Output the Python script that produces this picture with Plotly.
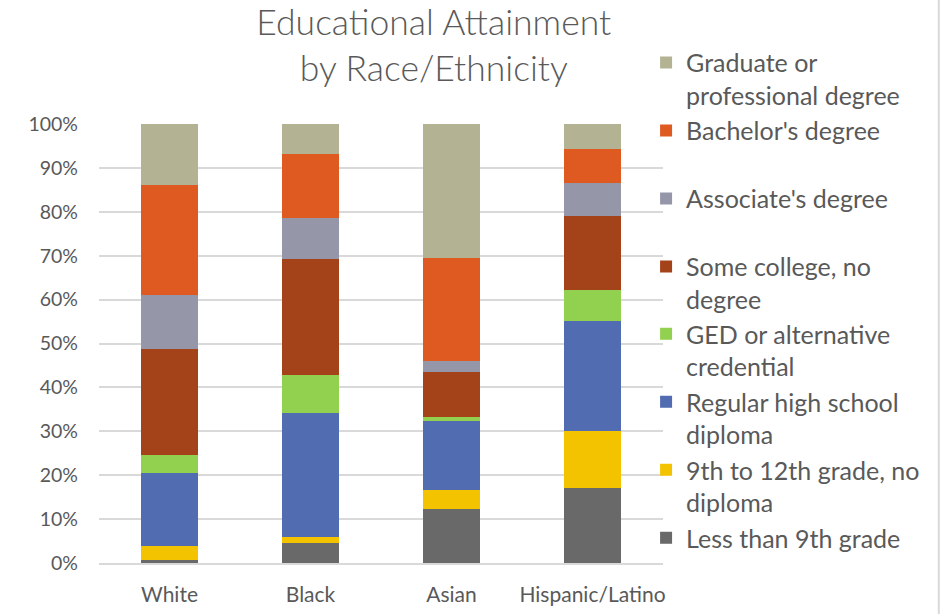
import plotly.graph_objects as go

# categories (x axis)
groups = ["White", "Black", "Asian", "Hispanic/Latino"]

# shares in percent, bottom of the stack first
less_than_9th = [0.6, 4.65, 12.3, 17.0]
grade_9_to_12 = [3.2, 1.2, 4.4, 13.1]
high_school = [16.6, 28.25, 15.7, 25.1]
ged = [4.1, 8.8, 0.9, 6.9]
some_college = [24.2, 26.3, 10.2, 16.9]
associate = [12.25, 9.5, 2.55, 7.6]
bachelor = [25.05, 14.4, 23.4, 7.6]
graduate = [14.0, 6.9, 30.55, 5.8]

# name, values, colour, which legend box
series = [
    ("Less than 9th grade<br>&nbsp;", less_than_9th, "#696969", "legend2"),
    ("9th to 12th grade, no<br>diploma", grade_9_to_12, "#F4C300", "legend2"),
    ("Regular high school<br>diploma", high_school, "#516CB1", "legend2"),
    ("GED or alternative<br>credential", ged, "#92D050", "legend2"),
    ("Some college, no<br>degree", some_college, "#A44219", "legend"),
    ("Associate's degree<br>&nbsp;", associate, "#9597A9", "legend"),
    ("Bachelor's degree<br>&nbsp;", bachelor, "#DF5A21", "legend"),
    ("Graduate or<br>professional degree", graduate, "#B3B393", "legend"),
]

FONT = "Lato, 'Open Sans', sans-serif"
GREY = "#595959"

fig = go.Figure()
for name, vals, color, leg in series:
    fig.add_trace(go.Bar(
        x=groups,
        y=[v / 100 for v in vals],
        name=name,
        legend=leg,
        marker=dict(color=color, line=dict(width=0)),
    ))

legend_style = dict(
    xanchor="left",
    yanchor="top",
    traceorder="reversed",
    valign="top",
    font=dict(family=FONT, size=25, color=GREY),
    bgcolor="rgba(0,0,0,0)",
)

fig.update_layout(
    width=943,
    height=614,
    barmode="stack",
    bargap=0.6,
    plot_bgcolor="white",
    paper_bgcolor="white",
    margin=dict(l=99, r=280, t=124, b=51, autoexpand=False),
    font=dict(family=FONT, color=GREY, size=20),
    title=dict(
        text="Educational Attainment<br>by Race/Ethnicity",
        x=0.46, xanchor="center",
        y=0.9435, yanchor="top",
        font=dict(family=FONT, size=35.5, color=GREY, weight=300),
    ),
    legend=dict(x=0.970, y=1.192, **legend_style),
    legend2=dict(x=0.970, y=0.574, **legend_style),
    shapes=[dict(
        type="line", xref="paper", yref="paper",
        x0=1.489, x1=1.489, y0=-0.12, y1=1.3,
        line=dict(color="#D9D9D9", width=2),
    )],
)

fig.update_yaxes(
    range=[0, 1],
    tickformat=".0%",
    dtick=0.1,
    showgrid=True,
    gridcolor="#D9D9D9",
    gridwidth=1.5,
    zeroline=False,
    showline=False,
    ticks="",
    ticklabelstandoff=20,
    tickfont=dict(size=19.5, color=GREY),
)
fig.update_xaxes(
    showline=True,
    linecolor="#D9D9D9",
    linewidth=1.5,
    ticks="",
    ticklabelstandoff=12,
    tickfont=dict(size=21, color=GREY),
)

# drop the default page margin so the figure sits at the window's corner
fig.write_html(
    "out.html",
    config={"displayModeBar": False},
    post_script="document.body.style.margin='0';",
)
